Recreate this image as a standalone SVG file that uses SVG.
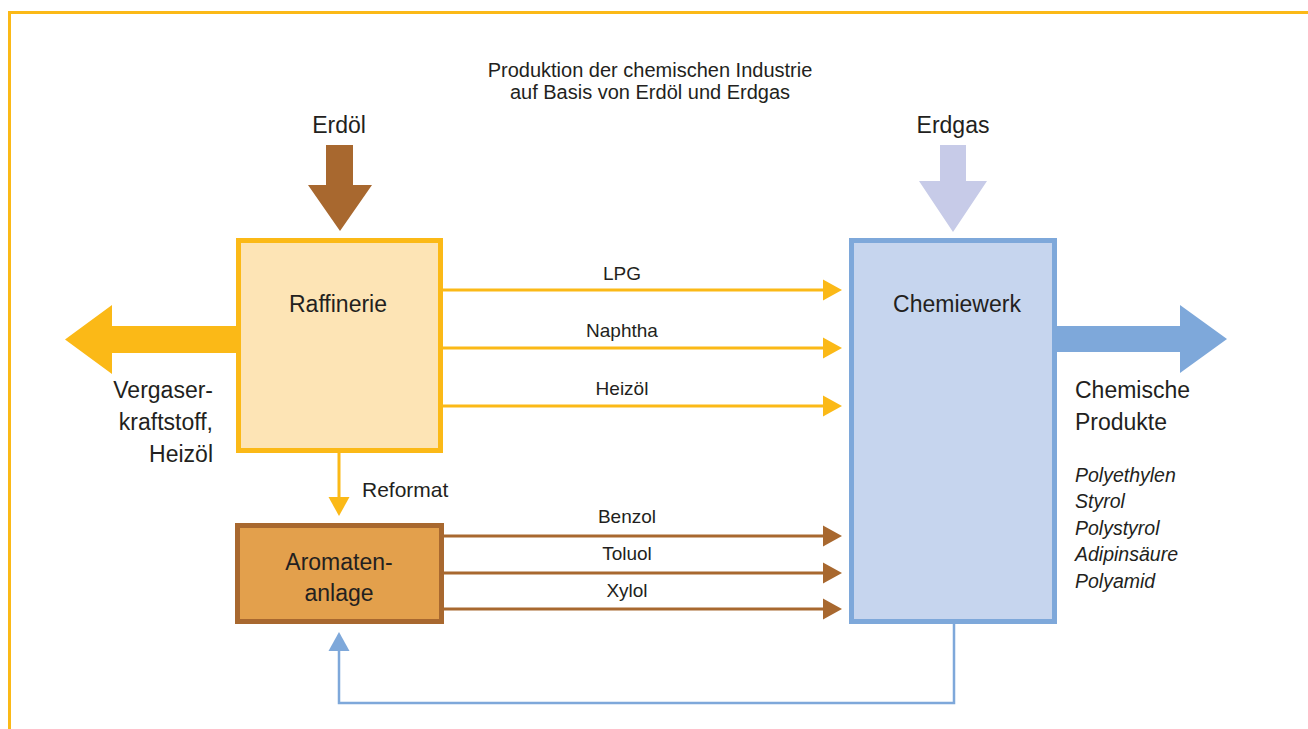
<svg xmlns="http://www.w3.org/2000/svg" width="1308" height="729" viewBox="0 0 1308 729">
<defs>
<style>
text{font-family:"Liberation Sans",Arial,sans-serif;fill:#231F20}
.big{font-size:23px}
.lbl{font-size:19px;text-anchor:middle}
.it{font-size:19.5px;font-style:italic}
.c{text-anchor:middle}
.y{stroke:#FBB917;stroke-width:3;fill:none}
.b{stroke:#A8682F;stroke-width:3;fill:none}
.bl{stroke:#7EA8DA;stroke-width:2.5;fill:none}
</style>
<marker id="ay" markerUnits="userSpaceOnUse" markerWidth="20" markerHeight="22" refX="0" refY="10.5" orient="auto" overflow="visible"><path d="M0,0 L19,10.5 L0,21 Z" fill="#FBB917"/></marker>
<marker id="ab" markerUnits="userSpaceOnUse" markerWidth="20" markerHeight="22" refX="0" refY="10.5" orient="auto" overflow="visible"><path d="M0,0 L19,10.5 L0,21 Z" fill="#A8682F"/></marker>
<marker id="abl" markerUnits="userSpaceOnUse" markerWidth="20" markerHeight="22" refX="0" refY="10.5" orient="auto" overflow="visible"><path d="M0,0 L19,10.5 L0,21 Z" fill="#7EA8DA"/></marker>
</defs>
<rect width="1308" height="729" fill="#FFFFFF"/>
<path d="M9.5,729 V12.5 H1308" fill="none" stroke="#FBB917" stroke-width="3"/>

<g id="title">
<text x="650" y="77" font-size="20" class="c">Produktion der chemischen Industrie</text>
<text x="650" y="99" font-size="20" class="c">auf Basis von Erdöl und Erdgas</text>
</g>

<g id="erdoel">
<text x="339" y="133" class="big c">Erdöl</text>
<polygon points="326,145 353,145 353,185 372,185 340,231 308,185 326,185" fill="#A8682F"/>
</g>

<g id="erdgas">
<text x="953" y="133" class="big c">Erdgas</text>
<polygon points="940,145 966,145 966,181 987,181 953,232 919,181 940,181" fill="#C7CBE8"/>
</g>

<g id="connectors">
<line x1="443" y1="290" x2="823" y2="290" class="y" marker-end="url(#ay)"/>
<line x1="443" y1="348" x2="823" y2="348" class="y" marker-end="url(#ay)"/>
<line x1="443" y1="406" x2="823" y2="406" class="y" marker-end="url(#ay)"/>
<line x1="444" y1="536" x2="823" y2="536" class="b" marker-end="url(#ab)"/>
<line x1="444" y1="573" x2="823" y2="573" class="b" marker-end="url(#ab)"/>
<line x1="444" y1="609" x2="823" y2="609" class="b" marker-end="url(#ab)"/>
<line x1="339" y1="453" x2="339" y2="497" class="y" marker-end="url(#ay)"/>
<polyline points="954,624 954,703 339,703 339,651" class="bl" marker-end="url(#abl)"/>
<text x="622" y="280" class="lbl">LPG</text>
<text x="622" y="337" class="lbl">Naphtha</text>
<text x="622" y="395" class="lbl">Heizöl</text>
<text x="627" y="523" class="lbl">Benzol</text>
<text x="627" y="560" class="lbl">Toluol</text>
<text x="627" y="597" class="lbl">Xylol</text>
<text x="362" y="497" font-size="21">Reformat</text>
</g>

<g id="raffinerie">
<polygon points="238,326 112,326 112,305 65,339.5 112,374 112,353 238,353" fill="#FBB917"/>
<rect x="238.5" y="240.5" width="202" height="210" fill="#FDE4B5" stroke="#FBB917" stroke-width="5"/>
<text x="338" y="312" class="big c">Raffinerie</text>
<text x="213" y="398" class="big" text-anchor="end">Vergaser-</text>
<text x="213" y="430" class="big" text-anchor="end">kraftstoff,</text>
<text x="213" y="462" class="big" text-anchor="end">Heizöl</text>
</g>

<g id="aromatenanlage">
<rect x="237.5" y="525.5" width="204" height="96" fill="#E3A04C" stroke="#A8682F" stroke-width="5"/>
<text x="339" y="570" class="big c">Aromaten-</text>
<text x="339" y="601" class="big c">anlage</text>
</g>

<g id="chemiewerk">
<polygon points="1055,326 1180,326 1180,305 1227,339 1180,373 1180,352 1055,352" fill="#7EA8DA"/>
<rect x="851.5" y="240.5" width="203" height="381" fill="#C6D5EE" stroke="#7EA8DA" stroke-width="5"/>
<text x="957" y="312" class="big c">Chemiewerk</text>
<text x="1075" y="398" class="big">Chemische</text>
<text x="1075" y="430" class="big">Produkte</text>
<text x="1075" y="482" class="it">Polyethylen</text>
<text x="1075" y="508" class="it">Styrol</text>
<text x="1075" y="535" class="it">Polystyrol</text>
<text x="1075" y="561" class="it">Adipinsäure</text>
<text x="1075" y="588" class="it">Polyamid</text>
</g>
</svg>
